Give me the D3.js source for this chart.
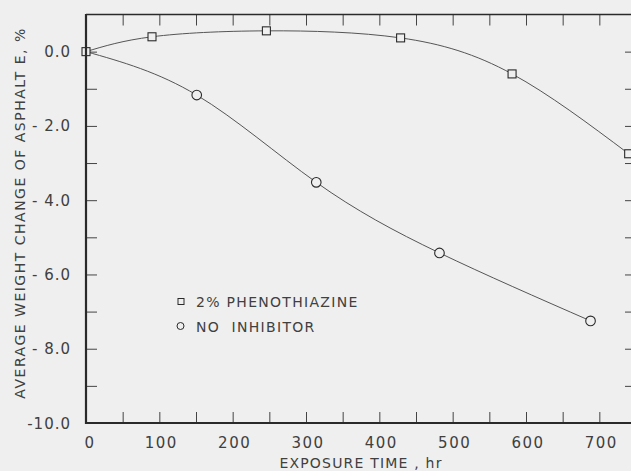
<!DOCTYPE html>
<html>
<head>
<meta charset="utf-8">
<script src="https://cdn.jsdelivr.net/npm/d3@7"></script>
<style>
  html, body { margin: 0; padding: 0; background: #efefef; }
  svg { display: block; }
  text { font-family: "DejaVu Sans", "Liberation Sans", sans-serif; fill: #404040; }
</style>
</head>
<body>
<svg id="chart" width="631" height="471"></svg>
<script>
// Exposure time (hr) and average weight change (%) for each formulation
const phenoHours   = [0, 90, 246, 429, 581, 740];
const phenoChange  = [0.0, 0.40, 0.56, 0.37, -0.60, -2.75];
const noInhHours   = [0, 151, 314, 482, 688];
const noInhChange  = [0.0, -1.17, -3.52, -5.42, -7.25];

const xTickValues  = [0, 100, 200, 300, 400, 500, 600, 700];
const xTickLabels  = ["0", "100", "200", "300", "400", "500", "600", "700"];
const yTickValues  = [0, -2, -4, -6, -8, -10];
const yTickLabels  = ["0.0", "- 2.0", "- 4.0", "- 6.0", "- 8.0", "-10.0"];

const seriesNames  = ["2% PHENOTHIAZINE", "NO  INHIBITOR"];

const svg = d3.select("#chart");
const ink = "#2a2a2a";
const lineInk = "#555";

const x = d3.scaleLinear().domain([0, 750]).range([86, 636]);
const y = d3.scaleLinear().domain([-10, 1]).range([423, 14.5]);

// Frame: heavy left and bottom axes, lighter top and right edges
const frame = svg.append("g");
frame.append("line").attr("x1", x(0)).attr("x2", x(750)).attr("y1", y(1)).attr("y2", y(1))
  .attr("stroke", ink).attr("stroke-width", 1.5);
frame.append("line").attr("x1", x(750)).attr("x2", x(750)).attr("y1", y(1)).attr("y2", y(-10))
  .attr("stroke", ink).attr("stroke-width", 1.5);

// Ticks every 50 hr on top and bottom, pointing inward
const xTicksAll = d3.range(50, 750, 50);
const tickLen = 11;
svg.append("g").attr("transform", `translate(0,${y(-10)})`)
  .call(d3.axisBottom(x).tickValues(xTicksAll).tickSize(-tickLen).tickFormat(""))
  .call(g => g.select(".domain").remove())
  .call(g => g.selectAll("line").attr("stroke", "#444").attr("stroke-width", 1));
svg.append("g").attr("transform", `translate(0,${y(1)})`)
  .call(d3.axisTop(x).tickValues(xTicksAll).tickSize(-tickLen).tickFormat(""))
  .call(g => g.select(".domain").remove())
  .call(g => g.selectAll("line").attr("stroke", "#444").attr("stroke-width", 1));

// Ticks every 1.0 % on left and right, pointing inward
const yTicksAll = d3.range(-9, 1, 1);
svg.append("g").attr("transform", `translate(${x(0)},0)`)
  .call(d3.axisLeft(y).tickValues(yTicksAll).tickSize(-tickLen).tickFormat(""))
  .call(g => g.select(".domain").remove())
  .call(g => g.selectAll("line").attr("stroke", "#444").attr("stroke-width", 1));
svg.append("g").attr("transform", `translate(${x(750)},0)`)
  .call(d3.axisRight(y).tickValues(yTicksAll).tickSize(-tickLen).tickFormat(""))
  .call(g => g.select(".domain").remove())
  .call(g => g.selectAll("line").attr("stroke", "#444").attr("stroke-width", 1));

// Tick labels
svg.append("g").selectAll("text").data(xTickValues).join("text")
  .attr("x", (d, i) => x(d) + (i === 0 ? 4 : 2))
  .attr("y", 448)
  .attr("text-anchor", "middle")
  .attr("font-size", 15)
  .attr("letter-spacing", 1.5)
  .text((d, i) => xTickLabels[i]);

svg.append("g").selectAll("text").data(yTickValues).join("text")
  .attr("x", 71)
  .attr("y", d => y(d) + 5.5)
  .attr("text-anchor", "end")
  .attr("font-size", 15)
  .attr("letter-spacing", 1)
  .text((d, i) => yTickLabels[i]);

// Axis titles
svg.append("text")
  .attr("x", 361).attr("y", 468)
  .attr("text-anchor", "middle")
  .attr("font-size", 14)
  .attr("letter-spacing", 1.2)
  .text("EXPOSURE TIME , hr");

svg.append("text")
  .attr("transform", "translate(25,213) rotate(-90)")
  .attr("text-anchor", "middle")
  .attr("font-size", 14)
  .attr("letter-spacing", 1.5)
  .text("AVERAGE WEIGHT CHANGE OF ASPHALT E, %");

// Smooth curves through the measured points
const line = d3.line().x(d => x(d[0])).y(d => y(d[1])).curve(d3.curveNatural);
const pheno = phenoHours.map((h, i) => [h, phenoChange[i]]);
const noInh = noInhHours.map((h, i) => [h, noInhChange[i]]);

svg.append("path").datum(pheno).attr("d", line)
  .attr("fill", "none").attr("stroke", lineInk).attr("stroke-width", 1);
svg.append("path").datum(noInh).attr("d", line)
  .attr("fill", "none").attr("stroke", lineInk).attr("stroke-width", 1);

// Markers (the shared origin is marked by the square only)
svg.append("g").selectAll("circle").data(noInh.slice(1)).join("circle")
  .attr("cx", d => x(d[0])).attr("cy", d => y(d[1])).attr("r", 4.8)
  .attr("fill", "#efefef").attr("stroke", ink).attr("stroke-width", 1.1);

svg.append("g").selectAll("rect").data(pheno).join("rect")
  .attr("x", d => x(d[0]) - 4).attr("y", d => y(d[1]) - 4)
  .attr("width", 8).attr("height", 8)
  .attr("fill", "#efefef").attr("stroke", ink).attr("stroke-width", 1.1);

// Left and bottom axis lines drawn last so they sit over the origin marker
frame.raise();
svg.append("line").attr("x1", x(0)).attr("x2", x(0)).attr("y1", y(1) - 0.5).attr("y2", y(-10) + 1)
  .attr("stroke", ink).attr("stroke-width", 2.2);
svg.append("line").attr("x1", x(0) - 1).attr("x2", x(750)).attr("y1", y(-10)).attr("y2", y(-10))
  .attr("stroke", ink).attr("stroke-width", 2.2);

// Legend
const legend = svg.append("g");
legend.append("rect").attr("x", 178).attr("y", 298.5).attr("width", 6).attr("height", 6)
  .attr("fill", "none").attr("stroke", ink).attr("stroke-width", 1);
legend.append("circle").attr("cx", 180.5).attr("cy", 326).attr("r", 3.5)
  .attr("fill", "none").attr("stroke", ink).attr("stroke-width", 1);
legend.selectAll("text").data(seriesNames).join("text")
  .attr("x", 196).attr("y", (d, i) => 307 + i * 24.5)
  .attr("font-size", 14)
  .attr("letter-spacing", 1.3)
  .style("white-space", "pre")
  .text(d => d);
</script>
</body>
</html>
